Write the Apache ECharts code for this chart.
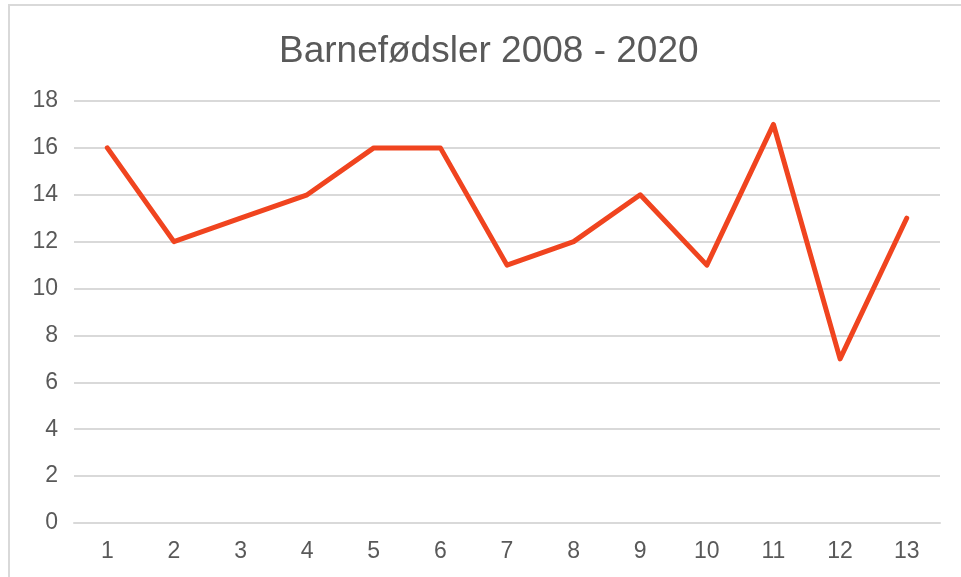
<!DOCTYPE html>
<html>
<head>
<meta charset="utf-8">
<script src="https://cdn.jsdelivr.net/npm/echarts@6/dist/echarts.min.js"></script>
<style>
html,body{margin:0;padding:0;background:#fff;}
#chart{width:961px;height:577px;}
</style>
</head>
<body>
<div id="chart"></div>
<script>
const titleText = "Barnefødsler 2008 - 2020";
const categories = ["1","2","3","4","5","6","7","8","9","10","11","12","13"];
const births = [16,12,13,14,16,16,11,12,14,11,17,7,13];

const chart = echarts.init(document.getElementById('chart'), null, {renderer:'canvas'});
chart.setOption({
  animation: false,
  backgroundColor: '#ffffff',
  graphic: [{
    type: 'rect',
    shape: {x: 9, y: 5, width: 1200, height: 1000},
    style: {fill: 'none', stroke: '#d9d9d9', lineWidth: 2},
    silent: true
  }],
  title: {
    text: titleText,
    left: 274,
    top: 28,
    textStyle: {fontFamily: 'Liberation Sans', fontSize: 37, fontWeight: 'normal', color: '#595959'}
  },
  grid: {left: 74, right: 21, top: 101, bottom: 54, containLabel: false},
  xAxis: {
    type: 'category',
    data: categories,
    boundaryGap: true,
    axisLine: {show: true, lineStyle: {color: '#d9d9d9', width: 2}},
    axisTick: {show: false},
    axisLabel: {fontFamily: 'Liberation Sans', fontSize: 23, color: '#595959', margin: 17}
  },
  yAxis: {
    type: 'value',
    min: 0, max: 18, interval: 2,
    axisLine: {show: false},
    axisTick: {show: false},
    splitLine: {lineStyle: {color: '#d9d9d9', width: 2}},
    axisLabel: {fontFamily: 'Liberation Sans', fontSize: 23, color: '#595959', margin: 16}
  },
  series: [{
    type: 'line',
    data: births,
    symbol: 'none',
    lineStyle: {color: '#F0441F', width: 5, cap: 'round', join: 'round'},
    itemStyle: {color: '#F0441F'}
  }]
});
</script>
</body>
</html>
